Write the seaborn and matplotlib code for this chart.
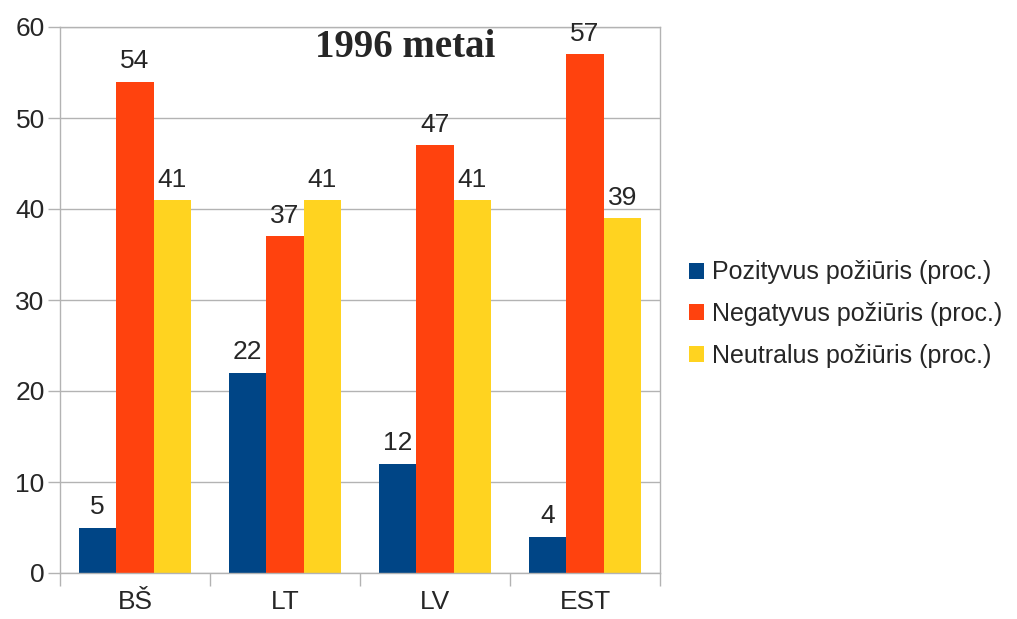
import pandas as pd
import matplotlib.pyplot as plt
import seaborn as sns

# ── Data ────────────────────────────────────────────────────────────────────
regions = ["BŠ", "LT", "LV", "EST"]
series = [
    "Pozityvus požiūris (proc.)",
    "Negatyvus požiūris (proc.)",
    "Neutralus požiūris (proc.)",
]
positive = [5, 22, 12, 4]
negative = [54, 37, 47, 57]
neutral = [41, 41, 41, 39]
colors = ["#004586", "#ff420e", "#ffd320"]

df = pd.DataFrame({
    "region": regions * 3,
    "series": [s for s in series for _ in regions],
    "value": positive + negative + neutral,
})

# ── Plot ────────────────────────────────────────────────────────────────────
sns.set_style("white")
plt.rcParams["font.family"] = ["Liberation Sans", "DejaVu Sans"]

fig = plt.figure(figsize=(10.17, 6.19), dpi=100)
ax = fig.add_axes([60 / 1017, 46 / 619, 600 / 1017, 546 / 619])

sns.barplot(data=df, x="region", y="value", hue="series", palette=colors,
            width=0.75, saturation=1, linewidth=0, ax=ax, legend=True)

for cont in ax.containers:
    ax.bar_label(cont, fontsize=19, padding=6)

ax.set_ylim(0, 60)
ax.set_xlim(-0.5, 3.5)
ax.set_yticks(range(0, 61, 10))
ax.yaxis.grid(True, color="#b3b3b3", linewidth=1)
ax.set_axisbelow(True)
ax.set_xlabel("")
ax.set_ylabel("")
ax.set_xticks([-0.5, 0.5, 1.5, 2.5, 3.5], minor=True)
ax.tick_params(axis="x", which="major", length=0, labelsize=19, pad=12)
ax.tick_params(axis="x", which="minor", bottom=True, length=9, color="#b3b3b3", width=1)
ax.tick_params(axis="y", left=True, length=9, color="#b3b3b3", width=1, labelsize=19, pad=2)
for sp in ax.spines.values():
    sp.set_color("#b3b3b3")
    sp.set_linewidth(1)

ax.text(0.575, 0.963, "1996 metai", transform=ax.transAxes, ha="center", va="center",
        fontsize=28, fontweight="bold", family="Liberation Serif")

ax.legend(loc="center left", bbox_to_anchor=(666 / 1017, 305 / 619),
          bbox_transform=fig.transFigure, frameon=False, fontsize=18,
          handlelength=0.6, handleheight=0.6, handletextpad=0.35, labelspacing=0.7)

fig.savefig("out.png", dpi=100)
